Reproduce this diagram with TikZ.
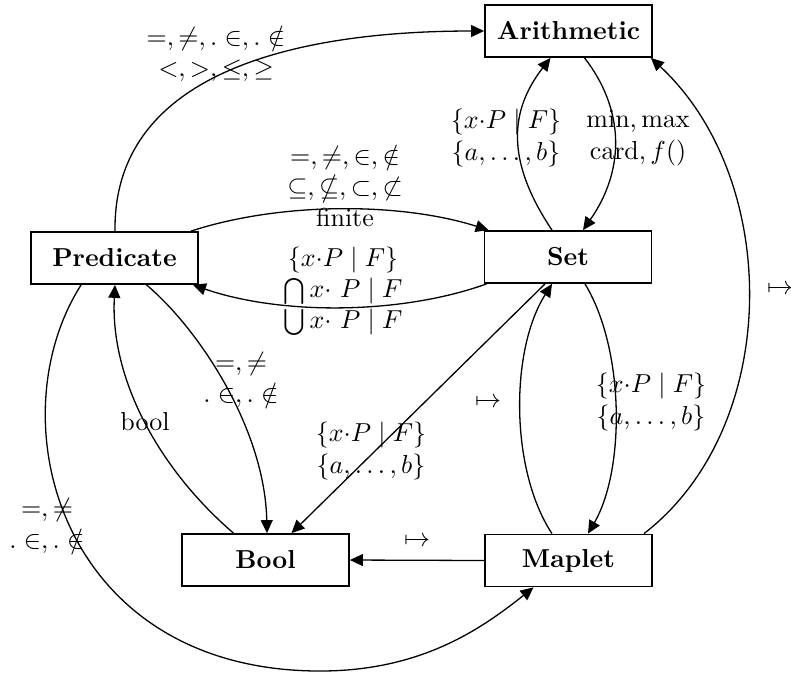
\documentclass[tikz,border=0pt]{standalone}
\usepackage{amsmath,amssymb}
\usetikzlibrary{arrows.meta,calc}
\begin{document}
\begin{tikzpicture}[x=0.385pt,y=-0.385pt,
  box/.style={draw,line width=0.7pt,minimum width=64.3pt,minimum height=20pt,inner sep=0pt,font=\bfseries},
  edge/.style={line width=0.5pt,-{Triangle[length=5pt,width=4.6pt]}},
  lab/.style={align=center,inner sep=0pt}]
\useasboundingbox (0,0) rectangle (791,674);
% nodes
\node[box] (A) at (568.5,31) {Arithmetic};
\node[box] (S) at (568,257) {Set};
\node[box] (P) at (114.5,258) {Predicate};
\node[box] (B) at (265.5,560) {Bool};
\node[box] (M) at (568.5,560.5) {Maplet};
\coordinate (bot) at (320,671);
% edges
\draw[edge] ($(P.north)+(0.5,0)$) .. controls (113,75) and (290,31) .. (A.west);
\draw[edge] ($(S.north)+(-16,0)$) .. controls (505,160) and (510,110) .. ($(A.south)+(-18,0)$);
\draw[edge] ($(A.south)+(16,0)$) .. controls (625,110) and (625,170) .. ($(S.north)+(15,0)$);
\draw[edge] ($(P.north east)+(-8,0)$) .. controls (280,202) and (400,202) .. ($(S.north west)+(5,0)$);
\draw[edge] ($(S.south west)+(3,0)$) .. controls (400,315) and (280,315) .. ($(P.south east)+(-6,0)$);
\draw[edge] ($(P.south)+(32,0)$) .. controls (200,330) and (265,430) .. ($(B.north)+(1.5,0)$);
\draw[edge] ($(B.north)+(-32,0)$) .. controls (160,470) and (110,380) .. ($(P.south)+(0.5,0)$);
\draw[edge] ($(S.south)+(-23,0)$) -- ($(B.north)+(26,0)$);
\draw[edge] ($(S.south)+(17,0)$) .. controls (625,350) and (625,470) .. ($(M.north)+(19.5,0)$);
\draw[edge] ($(M.north)+(-16.5,0)$) .. controls (510,470) and (510,350) .. ($(S.south)+(-16,0)$);
\draw[edge] ($(M.north east)+(-9,0)$) .. controls (782,427) and (782,180) .. ($(A.south east)+(-2,0)$);
\draw[edge] (M.west) -- (B.east);
\draw[edge] ($(P.south west)+(51,0)$) .. controls (-5,420) and (60,671) .. (bot)
   .. controls (420,671) and (480,630) .. ($(M.south)+(-35,0)$);
% labels
\node[lab] (l1) at (216,54) {$=, \neq, .\in, .\notin$\\$<, >, \leq, \geq$};
\node[lab] (l2) at (506,138) {$\{x{\cdot}P \mid F\}$\\$\{a,\ldots,b\}$};
\node[lab] (l3) at (638,138) {$\min,\max$\\$\mathrm{card}, f()$};
\node[lab] (l4) at (345,186) {$=,\neq,\in,\notin$\\$\subseteq,\nsubseteq,\subset,\not\subset$\\finite};
\node[lab] (l5) at (343,291) {$\{x{\cdot}P\mid F\}$\\$\bigcap x{\cdot}\ P \mid F$\\$\bigcup x{\cdot}\ P\mid F$};
\node[lab] (l6) at (241,380) {$=,\neq$\\$.\in,.\notin$};
\node[lab] (l7) at (145,422) {bool};
\node[lab] (l8) at (371,451) {$\{x{\cdot}P \mid F\}$\\$\{a,\ldots,b\}$};
\node[lab] (l9) at (488,403) {$\mapsto$};
\node[lab] (l10) at (651,402) {$\{x{\cdot}P \mid F\}$\\$\{a,\ldots,b\}$};
\node[lab] (l11) at (780,290) {$\mapsto$};
\node[lab] (l12) at (417,542) {$\mapsto$};
\node[lab] (l13) at (47,526) {$=,\neq$\\$.\in,.\notin$};
\end{tikzpicture}
\end{document}
